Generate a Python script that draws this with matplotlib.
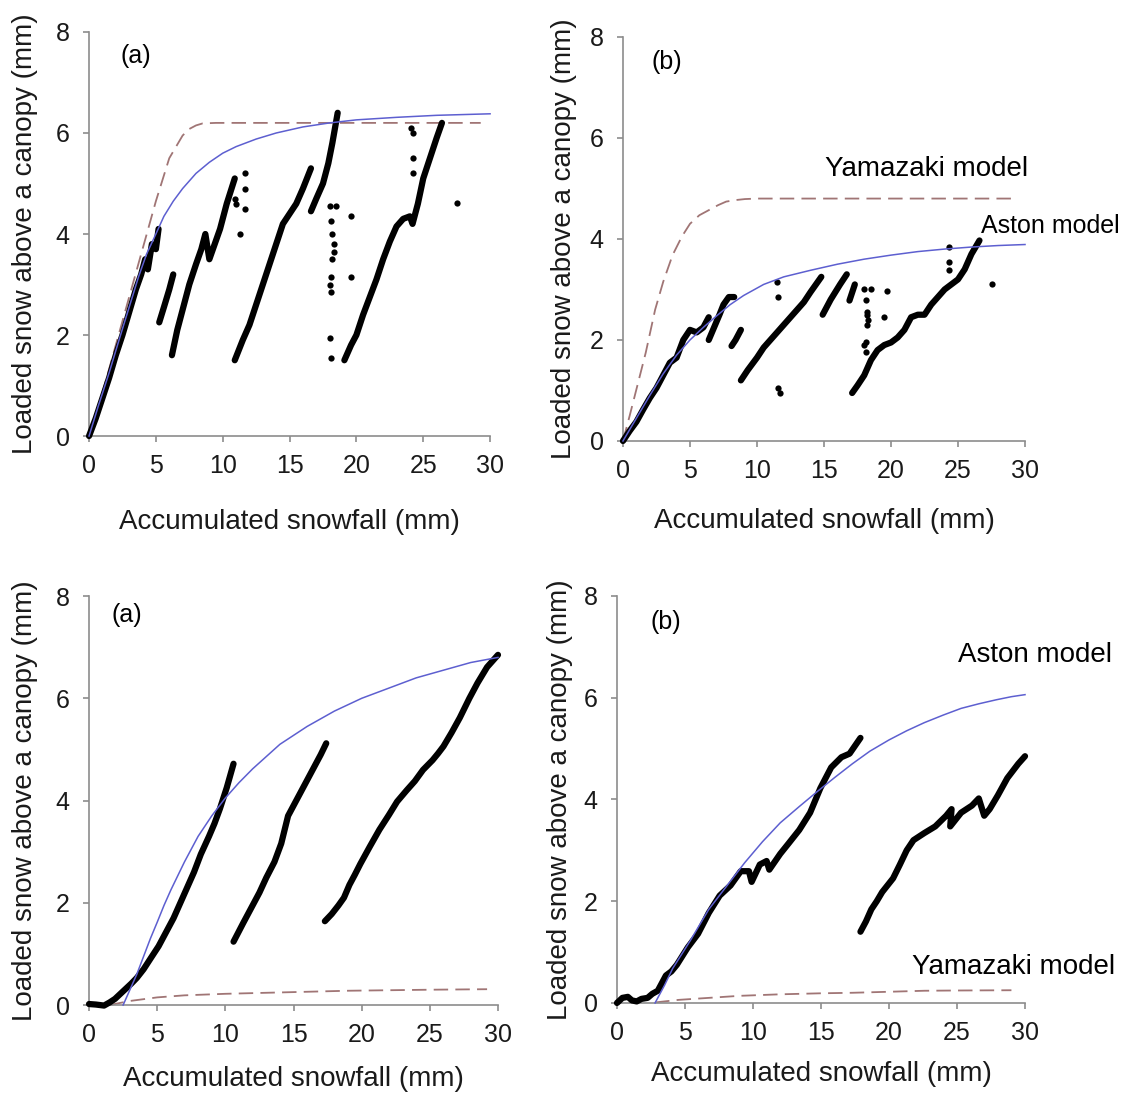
import matplotlib
matplotlib.use("Agg")
import matplotlib.pyplot as plt

plt.rcParams['font.family'] = ['Liberation Sans', 'DejaVu Sans']

# ---------------- Panel 1 : top left (a) ----------------
p1_seg_x = [
    [0, 0.5, 1.0, 1.5, 2.0, 2.5, 3.0, 3.5, 3.9, 4.2, 4.4, 4.7, 5.0, 5.2],
    [5.25, 5.6, 6.0, 6.3],
    [6.2, 6.6, 7.0, 7.5, 8.0, 8.4, 8.7, 9.0, 9.4, 9.8, 10.3, 10.9],
    [10.9, 11.5, 12.0, 12.5, 13.0, 13.5, 14.0, 14.5, 15.0, 15.5, 16.0, 16.6],
    [16.6, 17.0, 17.5, 17.9, 18.2, 18.6],
    [19.1, 19.6, 20.0, 20.5, 21.0, 21.5, 22.0, 22.5, 23.0, 23.5, 24.0, 24.2, 24.6, 25.0, 25.5, 26.0, 26.4],
]
p1_seg_y = [
    [0, 0.35, 0.75, 1.15, 1.6, 2.0, 2.45, 2.9, 3.2, 3.5, 3.3, 3.8, 3.7, 4.1],
    [2.25, 2.55, 2.9, 3.2],
    [1.6, 2.1, 2.5, 3.0, 3.4, 3.7, 4.0, 3.5, 3.8, 4.1, 4.6, 5.1],
    [1.5, 1.9, 2.2, 2.6, 3.0, 3.4, 3.8, 4.2, 4.4, 4.6, 4.9, 5.3],
    [4.45, 4.7, 5.0, 5.4, 5.8, 6.4],
    [1.5, 1.8, 2.0, 2.4, 2.75, 3.1, 3.5, 3.85, 4.15, 4.3, 4.35, 4.2, 4.6, 5.1, 5.5, 5.9, 6.2],
]
p1_dot_x = [10.9, 11.0, 11.7, 11.7, 11.7, 11.3, 18.0, 18.1, 18.2, 18.3, 18.3, 18.2, 18.1, 18.0, 18.1,
            18.0, 18.1, 18.5, 19.6, 19.6, 24.1, 24.2, 24.2, 24.2, 27.5]
p1_dot_y = [4.7, 4.6, 5.2, 4.9, 4.5, 4.0, 4.55, 4.25, 4.0, 3.8, 3.65, 3.5, 3.15, 3.0, 2.85,
            1.95, 1.55, 4.55, 4.35, 3.15, 6.1, 6.0, 5.5, 5.2, 4.62]
p1_yam_x = [0, 1.0, 2.0, 3.0, 4.0, 5.0, 6.0, 7.0, 7.5, 8.0, 8.5, 9.5, 12, 16, 20, 24, 29.3]
p1_yam_y = [0, 0.85, 1.8, 2.75, 3.7, 4.65, 5.5, 5.95, 6.08, 6.15, 6.19, 6.2, 6.2, 6.2, 6.2, 6.2, 6.2]
p1_ast_x = [0, 0.7, 1.5, 2.3, 3.0, 3.7, 4.3, 5.0, 5.6, 6.3, 7.0, 8.0, 9.0, 10.0, 11.0, 12.5, 14.0,
            16.0, 18.0, 20.0, 23.0, 26.0, 30.0]
p1_ast_y = [0, 0.6, 1.25, 1.95, 2.55, 3.15, 3.6, 4.0, 4.35, 4.65, 4.9, 5.2, 5.42, 5.6, 5.73, 5.88, 6.0,
            6.12, 6.2, 6.26, 6.31, 6.35, 6.38]

# ---------------- Panel 2 : top right (b) ----------------
p2_seg_x = [
    [0, 0.5, 1.0, 1.5, 2.0, 2.5, 3.0, 3.5, 4.0, 4.5, 5.0, 5.5, 6.0, 6.4],
    [6.4, 6.8, 7.2, 7.5, 7.9, 8.3],
    [8.1, 8.4, 8.8],
    [8.8, 9.3, 10.0, 10.5, 11.0, 11.5, 12.0, 12.5, 13.0, 13.5, 14.0, 14.8],
    [14.9, 15.5, 16.2, 16.7],
    [16.9, 17.3],
    [17.1, 17.5, 18.0, 18.5, 19.0, 19.5, 20.0, 20.5, 21.0, 21.5, 22.0, 22.5, 23.0, 23.5, 24.0,
     24.5, 25.0, 25.5, 26.0, 26.6],
]
p2_seg_y = [
    [0, 0.2, 0.38, 0.62, 0.85, 1.05, 1.3, 1.55, 1.65, 2.0, 2.2, 2.15, 2.25, 2.45],
    [2.0, 2.25, 2.5, 2.7, 2.85, 2.85],
    [1.88, 2.0, 2.2],
    [1.2, 1.4, 1.65, 1.85, 2.0, 2.15, 2.3, 2.45, 2.6, 2.75, 2.95, 3.25],
    [2.5, 2.8, 3.1, 3.3],
    [2.78, 3.1],
    [0.95, 1.1, 1.3, 1.6, 1.8, 1.9, 1.95, 2.05, 2.2, 2.45, 2.5, 2.5, 2.7, 2.85, 3.0,
     3.1, 3.2, 3.4, 3.7, 3.97],
]
p2_dot_x = [11.5, 11.6, 11.6, 11.7, 18.0, 18.1, 18.2, 18.2, 18.3, 18.2, 18.1, 18.0, 18.1, 18.5,
            19.7, 19.5, 24.3, 24.3, 24.3, 27.5]
p2_dot_y = [3.14, 2.86, 1.04, 0.95, 3.0, 2.8, 2.56, 2.5, 2.4, 2.3, 1.96, 1.9, 1.77, 3.0,
            2.97, 2.45, 3.85, 3.55, 3.38, 3.1]
p2_yam_x = [0, 0.5, 1.0, 1.7, 2.4, 3.0, 3.7, 4.4, 5.0, 5.7, 6.4, 7.1, 7.7, 8.4, 9.1, 10, 14, 18, 22, 26, 29]
p2_yam_y = [0, 0.5, 1.02, 1.75, 2.6, 3.15, 3.68, 4.05, 4.3, 4.47, 4.57, 4.67, 4.74, 4.77, 4.79, 4.8,
            4.8, 4.8, 4.8, 4.8, 4.8]
p2_ast_x = [0, 1.0, 2.0, 3.0, 4.0, 5.0, 6.0, 7.0, 8.0, 9.0, 10.5, 12.0, 14.0, 16.0, 18.0, 20.0,
            22.0, 24.0, 26.0, 28.0, 30.0]
p2_ast_y = [0, 0.45, 0.9, 1.33, 1.7, 2.0, 2.25, 2.48, 2.7, 2.88, 3.1, 3.25, 3.38, 3.5, 3.6, 3.68,
            3.75, 3.8, 3.84, 3.87, 3.89]

# ---------------- Panel 3 : bottom left (a) ----------------
p3_seg_x = [
    [0, 0.5, 1.1, 1.5, 1.9, 2.3, 2.7, 3.1, 3.5, 4.0, 4.56, 5.1, 5.6, 6.2, 6.7, 7.2, 7.7, 8.2,
     8.8, 9.2, 9.6, 10.1, 10.6],
    [10.6, 11.3, 12.0, 12.5, 13.0, 13.6, 14.1, 14.6, 15.0, 15.4, 16.0, 16.5, 17.0, 17.4],
    [17.3, 17.8, 18.3, 18.7, 19.1, 19.5, 19.9, 20.6, 21.3, 22.0, 22.6, 23.3, 23.9, 24.5, 25.2,
     25.6, 26.0, 26.6, 27.2, 27.9, 28.5, 29.2, 30.0],
]
p3_seg_y = [
    [0.02, 0.01, -0.01, 0.05, 0.12, 0.22, 0.32, 0.42, 0.53, 0.7, 0.93, 1.15, 1.4, 1.7, 2.0, 2.3,
     2.6, 2.95, 3.3, 3.55, 3.84, 4.25, 4.72],
    [1.24, 1.6, 1.95, 2.2, 2.49, 2.8, 3.16, 3.7, 3.9, 4.1, 4.4, 4.65, 4.9, 5.12],
    [1.64, 1.78, 1.95, 2.1, 2.35, 2.55, 2.76, 3.1, 3.43, 3.72, 3.98, 4.2, 4.38, 4.6, 4.79,
     4.92, 5.06, 5.33, 5.62, 6.0, 6.3, 6.61, 6.85],
]
p3_yam_x = [1.5, 3.0, 5.0, 7.0, 10.0, 13.0, 16.0, 19.0, 22.0, 25.0, 29.2]
p3_yam_y = [0.0, 0.08, 0.15, 0.19, 0.22, 0.24, 0.26, 0.28, 0.29, 0.3, 0.31]
p3_ast_x = [2.5, 3.0, 3.5, 4.0, 4.5, 5.0, 5.5, 6.0, 7.0, 8.0, 9.0, 10.0, 11.0, 12.0, 14.0, 16.0,
            18.0, 20.0, 22.0, 24.0, 26.0, 28.0, 30.0]
p3_ast_y = [0.0, 0.3, 0.6, 0.95, 1.3, 1.62, 1.95, 2.25, 2.8, 3.3, 3.7, 4.05, 4.35, 4.62, 5.1, 5.45,
            5.75, 6.0, 6.2, 6.4, 6.55, 6.7, 6.8]

# ---------------- Panel 4 : bottom right (b) ----------------
p4_seg_x = [
    [0, 0.4, 0.8, 1.1, 1.45, 1.8, 2.25, 2.6, 3.0, 3.6, 4.0, 4.4, 5.2, 5.96, 6.75, 7.55, 8.35, 9.1,
     9.7, 9.9, 10.5, 11.0, 11.2, 12.0, 12.6, 13.4, 14.2, 14.95, 15.75, 16.5, 17.1, 17.9],
    [17.9, 18.3, 18.7, 19.1, 19.5, 20.3, 20.8, 21.3, 21.8, 22.6, 23.4, 24.2, 24.6, 24.5, 25.3,
     26.1, 26.6, 27.0, 27.4, 28.0, 28.7, 29.5, 30.0],
]
p4_seg_y = [
    [0, 0.1, 0.12, 0.05, 0.03, 0.08, 0.1, 0.18, 0.24, 0.54, 0.62, 0.75, 1.09, 1.36, 1.77, 2.11,
     2.31, 2.59, 2.59, 2.38, 2.72, 2.79, 2.62, 2.93, 3.13, 3.4, 3.74, 4.22, 4.63, 4.83, 4.9, 5.21],
    [1.4, 1.6, 1.84, 2.0, 2.18, 2.45, 2.72, 3.0, 3.2, 3.34, 3.47, 3.68, 3.81, 3.47, 3.74,
     3.88, 4.02, 3.68, 3.81, 4.08, 4.42, 4.7, 4.85],
]
p4_yam_x = [2.8, 4.5, 6.75, 9.0, 12.0, 15.0, 17.3, 20.0, 22.6, 25.0, 29.0]
p4_yam_y = [0.01, 0.06, 0.1, 0.14, 0.17, 0.19, 0.2, 0.22, 0.24, 0.245, 0.25]
p4_ast_x = [2.8, 3.5, 4.1, 5.4, 6.75, 8.1, 9.4, 10.7, 12.0, 13.4, 14.7, 16.0, 17.3, 18.6, 20.0,
            21.3, 22.6, 24.0, 25.3, 26.6, 27.9, 29.0, 30.0]
p4_ast_y = [0.0, 0.35, 0.68, 1.23, 1.84, 2.31, 2.76, 3.17, 3.54, 3.86, 4.15, 4.43, 4.7, 4.95,
            5.17, 5.35, 5.51, 5.66, 5.79, 5.88, 5.96, 6.02, 6.06]

panel_tags = ['(a)', '(b)', '(a)', '(b)']
tag_pos = [(3.5, 7.52), (3.3, 7.5), (2.8, 7.63), (3.6, 7.49)]

xlabel_txt = 'Accumulated snowfall (mm)'
ylabel_txt = 'Loaded snow above a canopy (mm)'

BLUE = '#5d5fd0'
DASH = '#a07575'
GREY = '#8c8c8c'

fig = plt.figure(figsize=(11.30, 11.03), dpi=100)

rects = [
    [0.0788, 0.6047, 0.3549, 0.3663],
    [0.5513, 0.6002, 0.3558, 0.3663],
    [0.0788, 0.0888, 0.3619, 0.3708],
    [0.5460, 0.0907, 0.3611, 0.3690],
]
xlab_y = [-0.213, -0.198, -0.181, -0.174]
ylab_x = [-0.160, -0.147, -0.156, -0.140]

segs_x = [p1_seg_x, p2_seg_x, p3_seg_x, p4_seg_x]
segs_y = [p1_seg_y, p2_seg_y, p3_seg_y, p4_seg_y]
dots_x = [p1_dot_x, p2_dot_x, [], []]
dots_y = [p1_dot_y, p2_dot_y, [], []]
yam_x = [p1_yam_x, p2_yam_x, p3_yam_x, p4_yam_x]
yam_y = [p1_yam_y, p2_yam_y, p3_yam_y, p4_yam_y]
ast_x = [p1_ast_x, p2_ast_x, p3_ast_x, p4_ast_x]
ast_y = [p1_ast_y, p2_ast_y, p3_ast_y, p4_ast_y]

for i in range(4):
    ax = fig.add_axes(rects[i])

    # model curves
    ax.plot(yam_x[i], yam_y[i], color=DASH, lw=1.3, dashes=(8, 4), clip_on=False, zorder=2)
    ax.plot(ast_x[i], ast_y[i], color=BLUE, lw=1.1, clip_on=False, zorder=4)

    # measured
    for sx, sy in zip(segs_x[i], segs_y[i]):
        ax.plot(sx, sy, color='black', lw=4.5, solid_capstyle='round',
                solid_joinstyle='round', clip_on=False, zorder=3)
    if dots_x[i]:
        ax.plot(dots_x[i], dots_y[i], 'o', color='black', ms=4.5, mew=0, clip_on=False, zorder=3)

    ax.text(tag_pos[i][0], tag_pos[i][1], panel_tags[i], fontsize=18, ha='center', va='center')

    ax.set_xlim(0, 30)
    ax.set_ylim(0, 8)
    ax.set_xticks([0, 5, 10, 15, 20, 25, 30])
    ax.set_yticks([0, 2, 4, 6, 8])
    for s in ['top', 'right']:
        ax.spines[s].set_visible(False)
    for s in ['left', 'bottom']:
        ax.spines[s].set_color(GREY)
        ax.spines[s].set_linewidth(1.2)
    ax.tick_params(direction='out', length=4, width=1.2, color=GREY, labelsize=18,
                   labelcolor='#1a1a1a')
    ax.tick_params(axis='x', pad=9)
    ax.tick_params(axis='y', pad=10)

    ax.set_xlabel(xlabel_txt, fontsize=20, color='#1a1a1a')
    ax.set_ylabel(ylabel_txt, fontsize=20, color='#1a1a1a')
    ax.xaxis.set_label_coords(0.5, xlab_y[i])
    ax.yaxis.set_label_coords(ylab_x[i], 0.5)
    ax.xaxis.label.set_va('center')
    ax.yaxis.label.set_va('center')

# model names
ax2 = fig.axes[1]
ax2.text(22.65, 5.39, 'Yamazaki model', fontsize=20, ha='center', va='center', clip_on=False)
ax2.text(31.85, 4.26, 'Aston model', fontsize=18, ha='center', va='center', clip_on=False)
ax4 = fig.axes[3]
ax4.text(30.77, 6.84, 'Aston model', fontsize=20, ha='center', va='center', clip_on=False)
ax4.text(29.18, 0.71, 'Yamazaki model', fontsize=20, ha='center', va='center', clip_on=False)

fig.savefig('out.png', dpi=100)
